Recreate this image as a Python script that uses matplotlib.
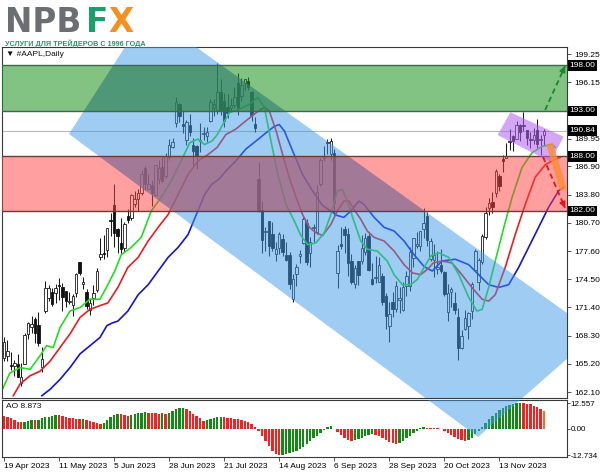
import matplotlib
matplotlib.use("Agg")
import matplotlib.pyplot as plt
from matplotlib.patches import Polygon, Rectangle
import numpy as np

plt.rcParams['font.family'] = ['Liberation Sans', 'DejaVu Sans']

# ---------------- data (AAPL daily, 19 Apr 2023 - 1 Dec 2023) ----------------
opens = [165.80, 166.09, 165.05, 165.00, 165.19, 163.06, 165.19, 168.49,
         169.28, 170.09, 169.50, 164.89, 170.98, 172.48, 173.05, 173.02, 173.85, 173.62, 173.16, 171.99,
         171.71, 173.00, 176.39, 173.98, 173.13, 171.09, 172.41, 173.32, 176.96, 177.33,
         177.70, 181.03, 182.63, 179.97, 178.44, 177.90, 181.50, 181.27, 182.80, 183.37, 183.96, 186.73,
         184.41, 184.90, 183.74, 185.55, 186.83, 185.89, 187.93, 189.08, 191.63,
         193.78, 191.57, 189.84, 191.41, 189.26, 189.16, 189.68, 190.50, 190.23, 191.90, 193.35, 193.10,
         195.09, 194.10, 193.41, 193.33, 193.67, 196.02, 194.67, 196.06,
         196.24, 195.04, 191.57, 185.52, 182.13, 179.69, 180.87, 179.48, 177.32, 177.97, 178.88, 177.13,
         177.14, 172.30, 175.07, 177.06, 178.52, 180.67, 177.38, 180.09, 179.70, 184.94, 187.84,
         189.49, 188.28, 188.40, 175.18, 178.35, 180.07, 179.49, 176.51, 174.00, 176.48, 176.48, 177.52,
         179.26, 174.55, 174.67, 174.20, 174.82, 172.62, 169.34, 172.02,
         171.22, 172.26, 171.09, 173.79, 173.80, 176.81, 178.10, 178.20, 180.07, 181.42, 176.75, 176.65,
         175.58, 176.04, 175.31, 170.91, 173.05, 171.88, 170.37, 166.91, 169.02, 169.35,
         171.00, 175.52, 174.24, 176.38, 179.18, 182.35, 182.96, 183.97, 185.82, 187.70, 187.85, 189.57,
         190.25, 189.89, 191.41, 191.49, 190.87, 189.92, 189.78, 190.90, 189.84,
         190.33]
highs = [168.16, 167.87, 166.45, 165.60, 166.31, 165.28, 168.56, 169.85,
         170.45, 170.35, 170.92, 167.04, 174.30, 173.85, 173.54, 174.03, 174.59, 174.06, 173.21, 173.14,
         172.93, 175.24, 176.39, 174.71, 173.38, 172.42, 173.90, 175.77, 178.99, 179.35,
         180.12, 181.78, 184.95, 180.12, 181.21, 180.84, 182.23, 183.89, 184.15, 184.39, 186.52, 186.99,
         186.10, 185.41, 187.05, 187.56, 188.05, 188.39, 189.90, 190.07, 194.48,
         193.88, 192.98, 192.02, 192.67, 189.99, 189.30, 191.70, 191.19, 191.18, 194.32, 194.33, 198.23,
         196.47, 194.97, 194.91, 194.44, 195.64, 197.20, 196.63, 196.49,
         196.73, 195.18, 192.37, 187.38, 183.13, 180.27, 180.93, 180.75, 178.62, 179.69, 179.48, 178.54,
         177.51, 175.10, 176.13, 177.68, 181.55, 181.10, 179.15, 180.59, 184.90, 187.85, 189.12,
         189.92, 189.98, 188.85, 178.21, 180.24, 180.30, 180.13, 177.30, 176.10, 176.50, 179.38, 179.63,
         179.70, 176.30, 177.08, 176.97, 175.20, 173.04, 172.03, 173.07,
         174.30, 173.63, 174.21, 175.45, 177.99, 179.05, 179.72, 179.85, 182.34, 181.93, 179.08, 178.42,
         177.58, 177.84, 175.42, 174.01, 173.67, 173.06, 171.38, 168.96, 171.17, 170.90,
         174.23, 177.78, 176.82, 179.43, 182.44, 183.45, 184.12, 186.57, 186.03, 188.11, 189.50, 190.96,
         190.38, 191.91, 191.52, 192.93, 190.90, 190.67, 191.08, 192.09, 190.32,
         191.00]
lows = [165.54, 165.56, 164.49, 163.89, 163.73, 162.80, 165.19, 167.88,
        168.64, 167.54, 167.16, 164.31, 170.76, 172.11, 171.60, 171.90, 172.17, 171.00, 171.47, 171.80,
        170.42, 172.58, 174.94, 173.45, 171.28, 170.52, 171.69, 173.11, 176.57, 176.76,
        176.93, 179.26, 178.04, 177.43, 177.32, 177.46, 180.63, 180.97, 182.44, 182.02, 183.78, 184.27,
        184.41, 182.59, 183.67, 185.01, 185.23, 185.67, 187.60, 188.94, 191.26,
        191.76, 190.62, 189.20, 190.24, 187.04, 186.60, 188.47, 189.78, 189.63, 191.81, 192.42, 192.65,
        192.50, 191.23, 192.25, 192.92, 193.32, 192.55, 194.14, 195.26,
        195.28, 191.85, 190.69, 181.92, 177.35, 177.58, 177.01, 177.60, 176.55, 177.31, 177.05, 176.50,
        173.48, 171.96, 173.74, 176.25, 178.33, 176.01, 175.82, 178.55, 179.50, 184.74, 187.48,
        188.28, 187.61, 181.47, 173.54, 177.79, 177.34, 174.82, 173.98, 173.58, 173.82, 176.17, 177.13,
        175.40, 173.86, 174.05, 174.15, 171.66, 169.05, 167.62, 170.34,
        170.93, 170.82, 170.97, 172.68, 173.18, 175.80, 177.95, 177.60, 179.04, 178.14, 176.51, 174.80,
        175.11, 175.19, 172.64, 169.93, 171.45, 170.65, 165.67, 166.83, 168.87, 167.90,
        170.12, 175.46, 173.35, 176.21, 178.97, 181.59, 181.81, 183.53, 184.21, 186.30, 187.78, 188.65,
        188.57, 189.88, 189.74, 190.83, 189.25, 188.90, 189.40, 188.97, 188.19,
        189.23]
closes = [167.63, 166.65, 165.02, 165.33, 163.77, 163.76, 168.41, 169.68,
          169.59, 168.54, 167.45, 165.79, 173.57, 173.50, 171.77, 173.56, 173.75, 172.57, 172.07, 172.07,
          172.69, 175.05, 175.16, 174.20, 171.56, 171.84, 172.99, 175.43, 177.30, 177.25,
          180.09, 180.95, 179.58, 179.21, 177.82, 180.57, 180.96, 183.79, 183.31, 183.95, 186.01, 184.92,
          185.01, 183.96, 187.00, 186.68, 185.27, 188.06, 189.25, 189.59, 193.97,
          192.46, 191.33, 191.81, 190.68, 188.61, 188.08, 189.77, 190.54, 190.69, 193.99, 193.73, 195.10,
          193.13, 191.94, 192.75, 193.62, 194.50, 193.22, 195.83, 196.45,
          195.61, 192.58, 191.17, 181.99, 178.85, 179.80, 178.19, 177.97, 177.79, 179.46, 177.45, 176.57,
          174.00, 174.49, 175.84, 177.23, 181.12, 176.38, 178.61, 180.19, 184.12, 187.65, 187.87,
          189.46, 189.70, 182.91, 177.56, 178.18, 179.36, 176.30, 174.21, 175.74, 175.01, 177.97, 179.07,
          175.49, 173.93, 174.79, 176.08, 171.96, 170.43, 170.69, 171.21,
          173.75, 172.40, 173.66, 174.91, 177.49, 178.99, 178.39, 179.80, 180.71, 178.85, 178.72, 177.15,
          175.84, 175.46, 172.88, 173.00, 173.44, 171.10, 166.89, 168.22, 170.29, 170.77,
          173.97, 177.57, 176.65, 179.23, 181.82, 182.89, 182.41, 186.40, 184.80, 187.44, 188.01, 189.71,
          189.69, 191.45, 190.64, 191.31, 189.97, 189.79, 190.40, 189.37, 189.95,
          190.84]

# Alligator lines (bar position, price)
lips_bar = [-0.7, 1.7, 4.7, 7.6, 10.5, 12.4, 14.3, 16.3, 19.2, 22.1, 25.0, 27.9, 29.9, 32.2, 34.1, 37.0,
            39.9, 42.8, 45.7, 48.6, 51.5, 54.0, 56.4, 58.3, 60.5, 62.0, 65.5, 68.4, 71.3, 73.7, 75.7,
            77.6, 79.6, 82.0, 84.4, 86.3, 88.3, 90.7, 93.1, 95.0, 96.9, 98.3, 99.8, 101.7, 103.7,
            105.6, 108.5, 111.4, 113.4, 115.8, 118.2, 120.2, 122.1, 124.2, 126.4, 129.3, 132.2,
            135.1, 137.5, 139.0, 140.9, 142.8, 145.3, 147.7, 150.6, 153.5, 156.4, 159.3, 160.2]
lips_val = [162.2, 164.2, 164.8, 164.6, 166.1, 167.2, 167.0, 169.2, 171.0, 171.4, 172.3, 172.3, 173.7,
            175.4, 177.2, 178.0, 179.1, 182.0, 183.5, 185.3, 187.5, 189.5, 189.9, 189.3, 189.7,
            190.4, 192.8, 193.2, 193.7, 194.5, 193.4, 189.7, 186.0, 182.7, 180.9, 179.3, 178.3,
            178.5, 179.6, 181.6, 184.2, 184.4, 183.1, 180.9, 178.7, 177.8, 177.6, 176.5, 175.0,
            173.9, 173.9, 174.5, 175.8, 177.1, 177.4, 176.9, 175.0, 172.5, 171.0, 171.2, 173.6,
            176.5, 180.2, 183.5, 186.8, 188.4, 189.1, 189.3, 189.0]
teeth_bar = [2.7, 4.7, 7.6, 10.5, 13.4, 16.3, 19.2, 22.1, 25.0, 27.9, 30.2, 33.1, 36.0, 39.0, 41.9,
             44.8, 47.7, 50.6, 53.5, 56.4, 59.3, 62.0, 64.5, 67.4, 70.3, 73.3, 75.7, 77.1, 79.1,
             81.0, 82.9, 84.9, 86.8, 88.8, 90.7, 92.6, 95.0, 96.9, 98.8, 100.3, 101.7, 103.7, 105.6,
             107.6, 110.5, 113.4, 116.3, 118.7, 121.1, 123.1, 124.8, 127.3, 130.2, 133.1, 136.0,
             139.0, 140.9, 142.8, 145.7, 148.6, 151.5, 154.4, 157.4, 160.3, 161.7]
teeth_val = [161.7, 163.0, 163.9, 164.4, 165.5, 167.0, 168.5, 170.3, 171.2, 171.6, 171.9, 173.6,
             175.8, 176.9, 178.7, 180.2, 181.6, 183.8, 186.0, 187.5, 188.2, 189.0, 190.4, 191.0,
             191.9, 192.8, 193.4, 193.0, 190.8, 188.2, 185.7, 183.5, 181.6, 180.2, 179.6, 179.3,
             180.5, 182.0, 183.1, 183.1, 182.2, 181.1, 179.8, 179.1, 178.7, 177.6, 176.1, 175.2,
             175.0, 175.6, 176.3, 176.5, 176.3, 175.0, 173.6, 172.3, 172.1, 172.8, 175.8, 179.4,
             182.7, 185.7, 187.1, 187.7, 187.9]
jaw_bar = [11.0, 13.4, 16.3, 19.2, 22.1, 25.0, 27.9, 29.9, 31.5, 33.1, 36.0, 39.0, 41.9, 44.8, 47.7,
           50.6, 53.5, 55.9, 58.3, 60.3, 62.5, 64.5, 67.4, 70.3, 73.3, 76.2, 78.6, 80.0, 81.5, 83.9,
           86.8, 89.7, 92.6, 95.0, 96.9, 98.8, 100.8, 103.2, 104.7, 107.6, 110.5, 113.4, 116.3,
           119.2, 122.1, 124.5, 127.3, 131.2, 135.1, 138.0, 140.9, 143.8, 146.7, 149.6, 152.5,
           155.4, 158.3, 161.2, 162.7]
jaw_val = [161.7, 162.4, 163.5, 164.8, 166.3, 167.2, 168.1, 169.4, 169.7, 169.9, 171.0, 172.8, 173.9,
           175.4, 176.9, 178.0, 179.4, 181.6, 183.8, 184.9, 185.5, 186.4, 187.5, 188.8, 189.7,
           190.6, 191.3, 191.5, 190.8, 188.6, 186.0, 184.2, 182.6, 182.0, 181.5, 181.3, 182.0,
           183.1, 182.7, 181.3, 180.2, 179.8, 178.7, 177.2, 175.9, 175.4, 176.5, 176.7, 176.1,
           175.0, 173.9, 173.6, 173.9, 175.8, 178.0, 180.2, 182.4, 184.2, 184.6]

# Awesome Oscillator histogram (one value per bar)
ao_values = [6.3, 5.9, 5.2, 4.4, 3.6, 3.2, 3.4, 4.0, 4.3, 4.2,
             4.6, 5.3, 5.6, 5.9, 6.4, 6.9, 6.6, 6.2, 5.8, 5.5,
             5.4, 5.0, 4.8, 4.9, 4.5, 4.0, 3.4, 2.8, 2.3, 2.9,
             4.3, 5.8, 7.0, 7.4, 7.2, 6.9, 6.5, 6.8, 7.3, 7.6,
             7.9, 8.2, 8.0, 7.8, 7.7, 7.5, 7.6, 7.4, 8.0, 8.8,
             9.5, 10.0, 10.2, 9.6, 8.6, 7.5, 6.4, 5.2, 4.1, 4.5,
             5.0, 5.4, 5.7, 6.0, 5.8, 5.5, 5.3, 5.0, 4.7, 4.3,
             3.8, 3.2, 2.6, 1.0, -1.0, -3.5, -6.0, -8.5, -10.5, -12.0,
             -12.7, -12.6, -12.3, -11.8, -11.2, -10.5, -9.6, -8.6, -7.4, -6.0,
             -4.6, -3.2, -1.8, -0.5, 0.8, 1.4, 0.2, -1.5, -3.0, -4.3,
             -5.2, -5.8, -5.5, -5.0, -4.4, -3.6, -2.9, -2.5, -2.7, -3.3,
             -4.2, -5.2, -6.2, -7.0, -7.3, -6.8, -5.8, -4.6, -3.3, -2.0,
             -0.8, 0.3, 0.9, 0.7, 0.5, 0.6, 0.3, -0.2, -0.9, -1.8,
             -2.8, -3.8, -4.8, -5.5, -5.8, -5.4, -4.2, -2.6, -0.8, 1.2,
             3.0, 4.8, 6.5, 8.0, 9.3, 10.4, 11.3, 11.9, 12.3, 12.5,
             12.557, 12.4, 12.3, 12.0, 11.4, 10.6, 9.8, 8.873]

date_labels = ['19 Apr 2023', '11 May 2023', '5 Jun 2023', '28 Jun 2023', '21 Jul 2023',
               '14 Aug 2023', '6 Sep 2023', '28 Sep 2023', '20 Oct 2023', '13 Nov 2023']
date_label_bars = [0, 16, 32, 48, 64, 80, 96, 112, 128, 144]
price_ticks = [199.25, 196.15, 189.95, 186.90, 183.80, 180.70, 177.60, 174.50, 171.40, 168.30, 165.20, 162.10]
price_tick_labels = ['199.25', '196.15', '189.95', '186.90', '183.80', '180.70', '177.60', '174.50',
                     '171.40', '168.30', '165.20', '162.10']
level_values = [198.00, 193.00, 190.84, 188.00, 182.00]
level_labels = ['198.00', '193.00', '190.84', '188.00', '182.00']
ao_ticks = [12.557, 0.0, -12.734]
ao_tick_labels = ['12.557', '0.00', '-12.734']
green_zone = (193.0, 198.0)
red_zone = (182.0, 188.0)
last_price = 190.84
ao_current = 8.873

# annotation geometry (bar position, price)
channel_corners = [(41.7, 203.85), (172.0, 168.52), (137.8, 157.16), (18.9, 190.46)]
flag_corners = [(143.5, 190.35), (147.2, 192.84), (162.7, 190.16), (158.8, 187.41)]
up_arrow = [(157.3, 193.1), (163.1, 197.93)]
down_arrow = [(156.7, 187.93), (163.1, 182.33)]
orange_stroke = [(158.6, 189.4), (162.6, 184.3)]

# ---------------- figure ----------------
W, H = 600, 476
fig = plt.figure(figsize=(W / 100, H / 100), dpi=100)
fig.patch.set_facecolor('white')


def rect(l, t, r, b):
    return [l / W, 1 - b / H, (r - l) / W, (b - t) / H]


ax = fig.add_axes(rect(2, 47, 567, 398))
aox = fig.add_axes(rect(2, 400, 567, 457))
XL = (-0.58, 163.66)
for a in (ax, aox):
    a.set_xlim(*XL)
    a.set_facecolor('white')
    for s in a.spines.values():
        s.set_color('#3a3a3a')
        s.set_linewidth(0.8)
ax.set_ylim(161.45, 200.02)
aox.set_ylim(-13.62, 14.1)

o = np.array(opens); h = np.array(highs); lo = np.array(lows); c = np.array(closes)
idx = np.arange(len(c))
up = c >= o

# candles
ax.vlines(idx, lo, h, color='#1a1a1a', lw=0.75, zorder=2)
bb = np.minimum(o, c)
bh = np.maximum(np.abs(c - o), 0.07)
ax.bar(idx[up], bh[up], bottom=bb[up], width=0.72, facecolor='white', edgecolor='#1a1a1a',
       linewidth=0.6, zorder=2.2)
ax.bar(idx[~up], bh[~up], bottom=bb[~up], width=0.72, facecolor='#111111', edgecolor='#111111',
       linewidth=0.6, zorder=2.2)

# current price line
ax.axhline(last_price, color='#b8b8b8', lw=0.8, zorder=1)

# alligator
ax.plot(jaw_bar, jaw_val, color='#1414d8', lw=1.2, zorder=2.5)
ax.plot(teeth_bar, teeth_val, color='#e61e1e', lw=1.2, zorder=2.5)
ax.plot(lips_bar, lips_val, color='#22dd22', lw=1.2, zorder=2.5)

# descending channel (main and oscillator panel)
ax.add_patch(Polygon(channel_corners, closed=True, transform=ax.transData,
                     facecolor='#3f9ae8', alpha=0.5, lw=0, zorder=3))
aox.add_patch(Polygon(channel_corners, closed=True, transform=ax.transData,
                      facecolor='#3f9ae8', alpha=0.5, lw=0, zorder=3))

# zones
ax.axhspan(*green_zone, facecolor='#1c901c', alpha=0.55, lw=0, zorder=4)
ax.axhspan(*red_zone, facecolor='#ff4040', alpha=0.5, lw=0, zorder=4)
for v in green_zone:
    ax.axhline(v, color='#3b6a45', lw=1.0, zorder=4.5)
for v in red_zone:
    ax.axhline(v, color='#6e3b3b', lw=1.0, zorder=4.5)

# overlap shading (channel x zones)
for zone, col, al in ((green_zone, '#3c6e6e', 0.3), (red_zone, '#6e6e96', 0.45)):
    p = Polygon(channel_corners, closed=True, transform=ax.transData,
                facecolor=col, alpha=al, lw=0, zorder=4.2)
    ax.add_patch(p)
    clip = Rectangle((XL[0], zone[0]), XL[1] - XL[0], zone[1] - zone[0], transform=ax.transData)
    p.set_clip_path(clip)

# flag
ax.add_patch(Polygon(flag_corners, closed=True, facecolor='#b060f0', alpha=0.55, lw=0, zorder=5))

# orange stroke
ax.plot([orange_stroke[0][0], orange_stroke[1][0]], [orange_stroke[0][1], orange_stroke[1][1]],
        color='#ff8a30', lw=5, alpha=0.8, solid_capstyle='butt', zorder=5.5)

# dashed arrows
for (p0, p1), col in ((up_arrow, '#138a2a'), (down_arrow, '#e8141a')):
    ax.plot([p0[0], p1[0]], [p0[1], p1[1]], color=col, lw=1.3, ls=(0, (3, 2)), zorder=6)
    ax.annotate('', xy=p1, xytext=(p0[0] + 0.9 * (p1[0] - p0[0]), p0[1] + 0.9 * (p1[1] - p0[1])),
                arrowprops=dict(arrowstyle='-|>', color=col, lw=1.0, mutation_scale=9,
                                shrinkA=0, shrinkB=0), zorder=6)

# right price axis
ax.yaxis.tick_right()
ax.set_yticks(price_ticks)
ax.set_yticklabels(price_tick_labels)
ax.tick_params(axis='y', length=3, width=0.6, pad=2, labelsize=6, color='#3a3a3a')
ax.set_xticks([])
for v, lab in zip(level_values, level_labels):
    ax.text(1 + 2.5 / 565, v, lab, transform=ax.get_yaxis_transform(), fontsize=6, color='white',
            va='center', ha='left', zorder=10,
            bbox=dict(boxstyle='square,pad=0.22', fc='black', ec='none'))

ax.text(4 / 565, 1 - 8 / 351, '\u25bc #AAPL,Daily', transform=ax.transAxes, fontsize=6,
        va='center', ha='left', color='#111111', zorder=10)

# oscillator
ao_arr = np.array(ao_values)
cols = ['#138a13' if (i > 0 and ao_arr[i] > ao_arr[i - 1]) else '#f52020' for i in range(len(ao_arr))]
cols[-1] = '#ff6a2a'
aox.bar(idx, ao_arr, width=0.7, color=cols, lw=0, zorder=2)
aox.yaxis.tick_right()
aox.set_yticks(ao_ticks)
aox.set_yticklabels(ao_tick_labels)
aox.tick_params(axis='y', length=2, width=0.6, pad=0.8, labelsize=5.8, color='#3a3a3a')
aox.set_xticks(date_label_bars)
aox.set_xticklabels(date_labels)
aox.tick_params(axis='x', length=3, width=0.6, pad=1.5, labelsize=6, color='#3a3a3a')
for t in aox.get_xticklabels():
    t.set_ha('left')
aox.text(4 / 565, 1 - 7 / 57, 'AO %.3f' % ao_current, transform=aox.transAxes, fontsize=6,
         va='center', ha='left', color='#111111', zorder=10)

# logo
fig.text(5 / W, 1 - 32.5 / H, 'NPB', fontsize=23.5, fontweight='bold', color='#6d6e71',
         family='DejaVu Sans', va='baseline', ha='left')
fig.text(86 / W, 1 - 32.5 / H, 'F', fontsize=23.5, fontweight='bold', color='#17a06e',
         family='DejaVu Sans', va='baseline', ha='left')
fig.text(108 / W, 1 - 32.5 / H, 'X', fontsize=23.5, fontweight='bold', color='#f5901e',
         family='DejaVu Sans', va='baseline', ha='left')
fig.text(5 / W, 1 - 46.5 / H, 'УСЛУГИ ДЛЯ ТРЕЙДЕРОВ С 1996 ГОДА', fontsize=5.2, fontweight='bold',
         color='#1f9a6a', family=['Liberation Sans Narrow', 'Liberation Sans', 'DejaVu Sans'],
         va='baseline', ha='left')

fig.savefig('out.png', dpi=100)
